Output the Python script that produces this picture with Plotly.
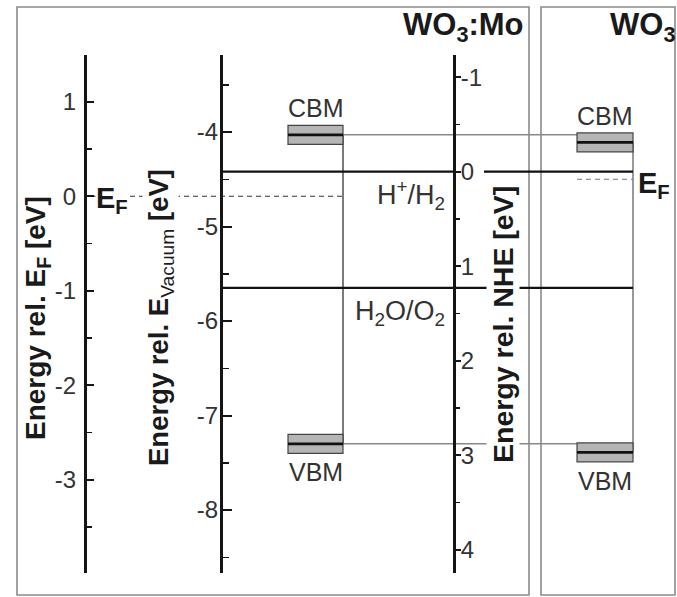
import plotly.graph_objects as go

W, H = 677, 597
FONT = "Liberation Sans, Arial, sans-serif"

# ---------------- data ----------------
materials = ["WO<sub>3</sub>:Mo", "WO<sub>3</sub>"]
cbm_vac = [-4.03, -4.11]          # conduction band minimum, eV vs vacuum
vbm_vac = [-7.30, -7.39]          # valence band maximum, eV vs vacuum
fermi_vac = [-4.68, -4.50]        # Fermi level, eV vs vacuum
band_halfwidth = [0.10, 0.10]     # uncertainty of band edges (eV)
nhe_zero_vac = -4.42              # NHE zero on vacuum scale
redox_names = ["H<sup>+</sup>/H<sub>2</sub>", "H<sub>2</sub>O/O<sub>2</sub>"]
redox_nhe = [0.0, 1.23]
ef_ticks = [1, 0, -1, -2, -3]
vac_ticks = [-4, -5, -6, -7, -8]
nhe_ticks = [-1, 0, 1, 2, 3, 4]

# ---------------- layout constants (pixels) ----------------
AX_EF, AX_VAC, AX_NHE = 85, 221, 454
BOX = [(288, 343), (577, 633)]
PANELS = [(17, 529), (541, 675)]
PANEL_TOP, PANEL_BOT = 7, 595
AX_TOP, AX_BOT = 55, 573
PX_PER_EV = 94.5
VAC_REF_PX = 132  # pixel of -4 eV

def py(px):
    return 1 - px / H

vac_range = [-4 - (AX_BOT - VAC_REF_PX) / PX_PER_EV, -4 + (VAC_REF_PX - AX_TOP) / PX_PER_EV]
ef_ref = fermi_vac[0]
ef_range = [v - ef_ref for v in vac_range]
nhe_range = [nhe_zero_vac - v for v in vac_range]
domain = [py(AX_BOT), py(AX_TOP)]

def lab(v):
    return str(v).replace("\u2212", "-")

def minor_of(ticks):
    s = set()
    for t in ticks:
        s.add(t + 0.5)
        s.add(t - 0.5)
    return sorted(s - set(ticks))

fig = go.Figure()

# Fermi-level reference line (E_F axis)
fig.add_trace(go.Scatter(x=[AX_EF, BOX[0][1]], y=[0, 0], yaxis="y2", mode="lines",
                         line=dict(color="#333", width=1.2, dash="5px,4px"), hoverinfo="skip"))
# redox levels on NHE axis
fig.add_trace(go.Scatter(x=[AX_VAC, AX_NHE, None, 484, BOX[1][1]],
                         y=[redox_nhe[0], redox_nhe[0], None, redox_nhe[0], redox_nhe[0]],
                         yaxis="y3", mode="lines", line=dict(color="#111", width=2.2), hoverinfo="skip"))
fig.add_trace(go.Scatter(x=[AX_VAC, BOX[1][1]], y=[redox_nhe[1], redox_nhe[1]],
                         yaxis="y3", mode="lines", line=dict(color="#111", width=2.2), hoverinfo="skip"))

# connectors
fig.add_trace(go.Scatter(x=[BOX[0][1], BOX[0][1]], y=[cbm_vac[0], vbm_vac[0]], mode="lines",
                         line=dict(color="#222", width=1.2), hoverinfo="skip"))
fig.add_trace(go.Scatter(x=[BOX[1][1], BOX[1][1]], y=[cbm_vac[1], vbm_vac[1]], mode="lines",
                         line=dict(color="#555", width=1.2), hoverinfo="skip"))
fig.add_trace(go.Scatter(x=[BOX[0][1], BOX[1][0], None, BOX[0][1], BOX[1][0]],
                         y=[cbm_vac[0], cbm_vac[0], None, vbm_vac[0], vbm_vac[0]], mode="lines",
                         line=dict(color="#888", width=1.5), hoverinfo="skip"))
# WO3 Fermi level
fig.add_trace(go.Scatter(x=[BOX[1][0], BOX[1][1]], y=[fermi_vac[1], fermi_vac[1]], mode="lines",
                         line=dict(color="#777", width=1.2, dash="5px,4px"), hoverinfo="skip"))

shapes = []
for (x0, x1) in PANELS:
    shapes.append(dict(type="rect", xref="x", yref="paper", x0=x0, x1=x1,
                       y0=py(PANEL_BOT), y1=py(PANEL_TOP), line=dict(color="#8a8a8a", width=1.6),
                       layer="below"))
for i in range(2):
    x0, x1 = BOX[i]
    for lvl in (cbm_vac[i], vbm_vac[i]):
        shapes.append(dict(type="rect", xref="x", yref="y", x0=x0, x1=x1,
                           y0=lvl - band_halfwidth[i], y1=lvl + band_halfwidth[i],
                           fillcolor="#b5b5b5", line=dict(color="#444", width=1.2)))
        shapes.append(dict(type="line", xref="x", yref="y", x0=x0, x1=x1, y0=lvl, y1=lvl,
                           line=dict(color="#111", width=2.6)))

ann = []
def A(text, x, y, yref="y", xanchor="center", yanchor="middle", size=24, color="#333",
      angle=0, bg=None, yshift=0, xshift=0):
    d = dict(text=text, x=x, y=y, xref="x", yref=yref, xanchor=xanchor, yanchor=yanchor,
             showarrow=False, textangle=angle, yshift=yshift, xshift=xshift,
             font=dict(family=FONT, size=size, color=color))
    if bg:
        d["bgcolor"] = bg
        d["borderpad"] = 0
    ann.append(d)

# titles
A("<b>" + materials[0] + "</b>", 526, py(27), yref="paper", xanchor="right", size=31, color="#1a1a1a")
A("<b>" + materials[1] + "</b>", 677, py(27), yref="paper", xanchor="right", size=31, color="#1a1a1a")
# axis titles
A("<b>Energy rel. E<sub>F</sub> [eV]</b>", 37, py(318), yref="paper", angle=-90, size=28, color="#1a1a1a")
A("<b>Energy rel. E</b><sub>Vacuum</sub><b> [eV]</b>", 160, py(318), yref="paper", angle=-90, size=27.5,
  color="#1a1a1a", bg="white")
A("<b>Energy rel. NHE [eV]</b>", 503, py(325), yref="paper", angle=-90, size=28.5, color="#1a1a1a", bg="white")
# Fermi labels
A("<b>E<sub>F</sub></b>", 95, fermi_vac[0], xanchor="left", size=29, color="#1a1a1a", bg="white", yshift=-4)
A("<b>E<sub>F</sub></b>", 636, fermi_vac[1], xanchor="left", size=29, color="#1a1a1a", yshift=-6)
# band labels
for i in range(2):
    xc = (BOX[i][0] + BOX[i][1]) / 2
    A("CBM", xc, cbm_vac[i] + band_halfwidth[i], yanchor="bottom", size=25, yshift=1)
    A("VBM", xc, vbm_vac[i] - band_halfwidth[i], yanchor="top", size=25, yshift=-3)
# redox labels
A(redox_names[0], 447, nhe_zero_vac - redox_nhe[0], xanchor="right", yanchor="top", size=27, yshift=-2)
A(redox_names[1], 447, nhe_zero_vac - redox_nhe[1], xanchor="right", yanchor="top", size=27, yshift=-6)

axis_common = dict(domain=domain, anchor="free", showline=True, linewidth=3, linecolor="#151515",
                   showgrid=False, zeroline=False, tickfont=dict(family=FONT, size=24, color="#333"),
                   tickwidth=2, tickcolor="#151515", tickmode="array", fixedrange=True)

fig.update_layout(
    width=W, height=H, margin=dict(l=0, r=0, t=0, b=0),
    paper_bgcolor="white", plot_bgcolor="white", showlegend=False,
    xaxis=dict(range=[0, W], domain=[0, 1], visible=False, fixedrange=True),
    yaxis=dict(**axis_common, range=vac_range, position=AX_VAC / W, side="left",
               ticks="inside", ticklen=9, tickvals=vac_ticks, ticktext=[lab(t) for t in vac_ticks],
               ticklabelstandoff=-3,
               minor=dict(ticks="inside", ticklen=6, tickwidth=1.5, tickcolor="#151515",
                          tickvals=minor_of(vac_ticks))),
    yaxis2=dict(**axis_common, range=ef_range, overlaying="y", position=AX_EF / W, side="left",
                ticks="inside", ticklen=7, tickvals=ef_ticks, ticktext=[lab(t) for t in ef_ticks],
                ticklabelstandoff=3,
                minor=dict(ticks="inside", ticklen=5, tickwidth=1.5, tickcolor="#151515",
                           tickvals=minor_of(ef_ticks))),
    yaxis3=dict(**axis_common, range=nhe_range, overlaying="y", position=AX_NHE / W, side="right",
                ticks="outside", ticklen=5, tickvals=nhe_ticks, ticktext=[lab(t) for t in nhe_ticks],
                ticklabelstandoff=-5,
                minor=dict(ticks="outside", ticklen=4, tickwidth=1.5, tickcolor="#151515",
                           tickvals=minor_of(nhe_ticks))),
    shapes=shapes, annotations=ann,
)

fig.write_html("out.html", config={"displayModeBar": False, "staticPlot": True},
               post_script="document.body.style.margin='0px';document.body.style.overflow='hidden';")
